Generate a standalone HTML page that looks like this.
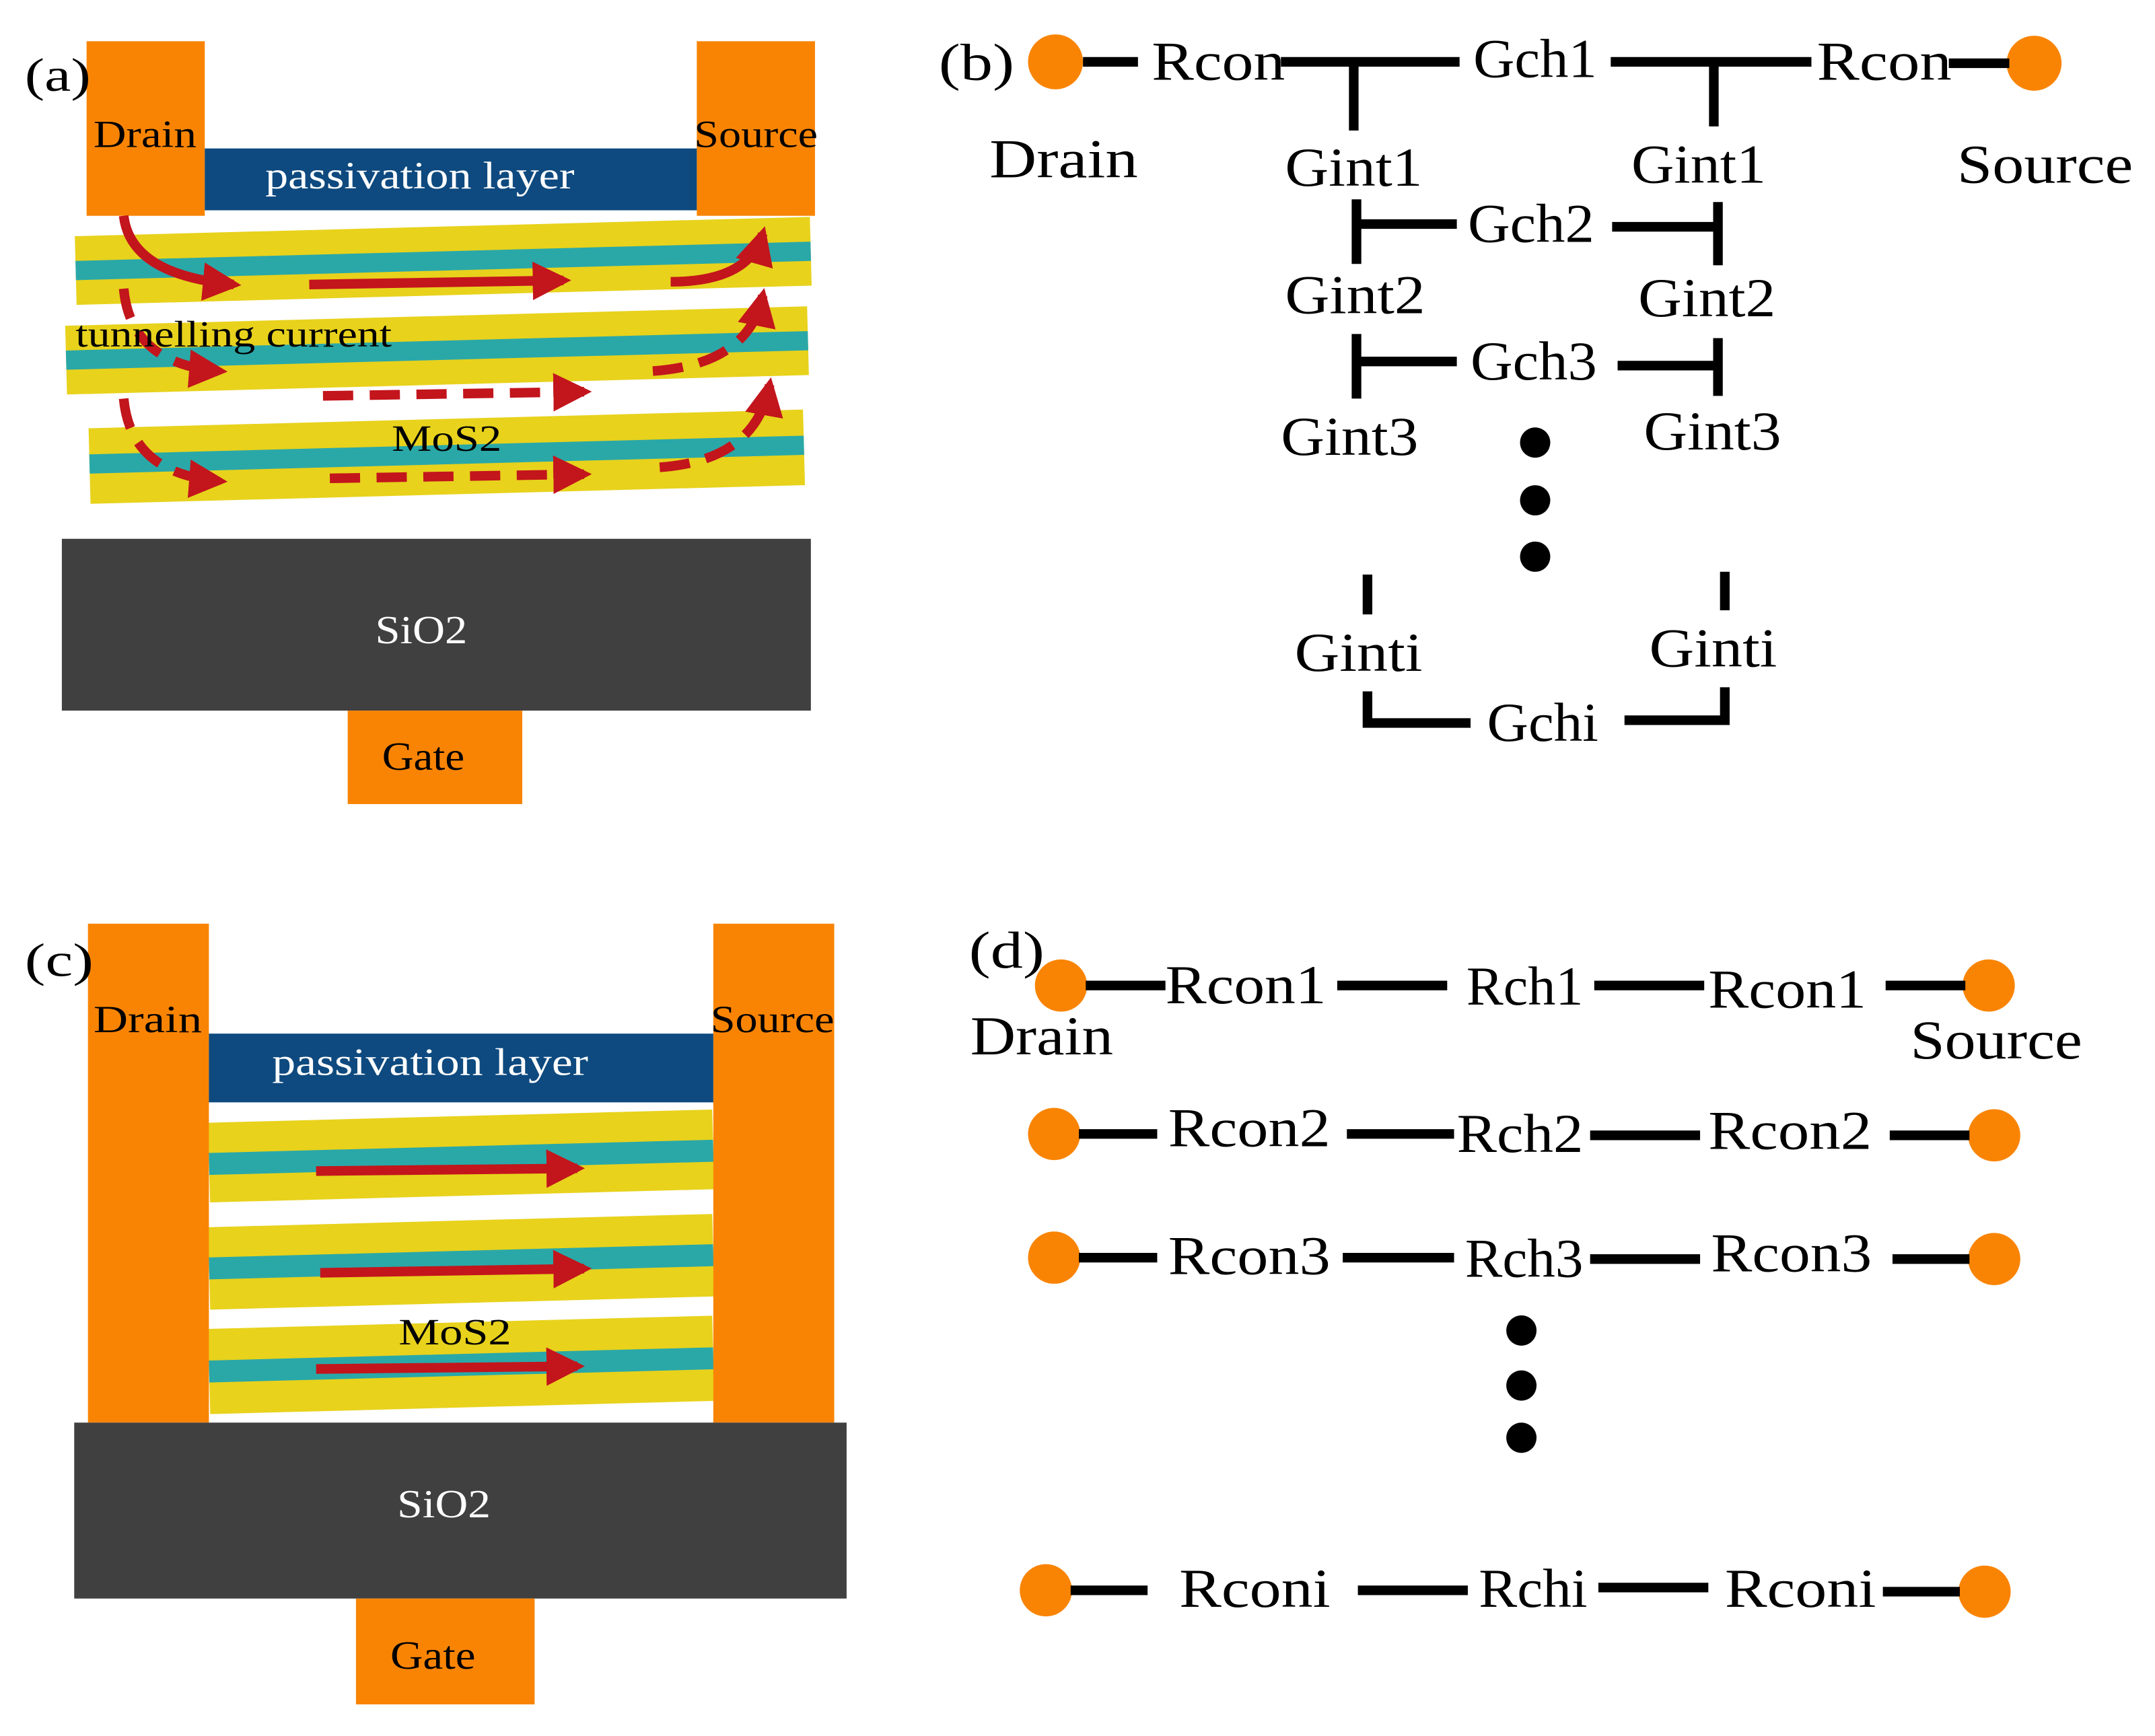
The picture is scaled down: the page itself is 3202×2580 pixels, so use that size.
<!DOCTYPE html>
<html><head><meta charset="utf-8"><style>
html,body{margin:0;padding:0;background:#fff}
svg{display:block}
text{font-family:"Liberation Serif",serif}
</style></head><body>
<svg width="3202" height="2580" viewBox="0 0 1568 1263" preserveAspectRatio="none" xmlns="http://www.w3.org/2000/svg">
<defs>
<marker id="ah" viewBox="0 0 10 10" refX="8" refY="5" markerWidth="4" markerHeight="4" orient="auto"><path d="M0,0 L10,5 L0,10z" fill="#c3151c"/></marker>
</defs>
<rect width="1568" height="1263" fill="#fff"/>
<!-- Panel a -->
<g lengthAdjust="spacingAndGlyphs">
<g transform="rotate(-1.5 316 190)"><rect x="55" y="165" width="535" height="50" fill="#e8d21c"/><rect x="55" y="183" width="535" height="14" fill="#2aa8a8"/></g>
<g transform="rotate(-1.5 316 255)"><rect x="48" y="230" width="540" height="50" fill="#e8d21c"/><rect x="48" y="248" width="540" height="14" fill="#2aa8a8"/></g>
<g transform="rotate(-1.5 316 330)"><rect x="65" y="305" width="520" height="55" fill="#e8d21c"/><rect x="65" y="324" width="520" height="14" fill="#2aa8a8"/></g>
<rect x="63" y="30" width="86" height="127" fill="#f98404"/>
<rect x="507" y="30" width="86" height="127" fill="#f98404"/>
<rect x="149" y="108" width="358" height="45" fill="#0e4a7f"/>
<text x="193" y="137" font-size="28" fill="#fff" textLength="225" lengthAdjust="spacingAndGlyphs">passivation layer</text>
<text x="68" y="107" font-size="28" textLength="75" lengthAdjust="spacingAndGlyphs">Drain</text>
<text x="505" y="107" font-size="28" textLength="90" lengthAdjust="spacingAndGlyphs">Source</text>
<text x="18" y="66" font-size="34" textLength="48" lengthAdjust="spacingAndGlyphs">(a)</text>
<g stroke="#c3151c" stroke-width="7" fill="none" marker-end="url(#ah)">
<path d="M90,157 Q95,200 170,207"/>
<line x1="225" y1="207" x2="410" y2="204"/>
<path d="M488,205 Q545,205 555,170"/>
<g stroke-dasharray="22,12">
<path d="M90,210 Q95,265 160,270"/>
<line x1="235" y1="288" x2="425" y2="285"/>
<path d="M475,270 Q545,265 555,215"/>
<path d="M90,290 Q95,345 160,350"/>
<line x1="240" y1="348" x2="425" y2="345"/>
<path d="M480,340 Q550,335 560,280"/>
</g></g>
<text x="55" y="252" font-size="27" textLength="230" lengthAdjust="spacingAndGlyphs">tunnelling current</text>
<text x="285" y="328" font-size="27" textLength="80" lengthAdjust="spacingAndGlyphs">MoS2</text>
<rect x="45" y="392" width="545" height="125" fill="#404040"/>
<text x="273" y="468" font-size="29" fill="#fff" textLength="67" lengthAdjust="spacingAndGlyphs">SiO2</text>
<rect x="253" y="517" width="127" height="68" fill="#f98404"/>
<text x="278" y="560" font-size="29" textLength="60" lengthAdjust="spacingAndGlyphs">Gate</text>
</g>
<!-- Panel c -->
<g>
<g transform="rotate(-1.5 336 840)"><rect x="152" y="812" width="367" height="58" fill="#e8d21c"/><rect x="152" y="834" width="367" height="16" fill="#2aa8a8"/></g>
<g transform="rotate(-1.5 336 915)"><rect x="152" y="888" width="367" height="60" fill="#e8d21c"/><rect x="152" y="910" width="367" height="16" fill="#2aa8a8"/></g>
<g transform="rotate(-1.5 336 990)"><rect x="152" y="962" width="367" height="62" fill="#e8d21c"/><rect x="152" y="985" width="367" height="16" fill="#2aa8a8"/></g>
<rect x="64" y="672" width="88" height="363" fill="#f98404"/>
<rect x="519" y="672" width="88" height="363" fill="#f98404"/>
<rect x="152" y="752" width="367" height="50" fill="#0e4a7f"/>
<text x="198" y="782" font-size="28" fill="#fff" textLength="230" lengthAdjust="spacingAndGlyphs">passivation layer</text>
<text x="68" y="751" font-size="28" textLength="79" lengthAdjust="spacingAndGlyphs">Drain</text>
<text x="517" y="751" font-size="28" textLength="90" lengthAdjust="spacingAndGlyphs">Source</text>
<text x="18" y="710" font-size="34" textLength="50" lengthAdjust="spacingAndGlyphs">(c)</text>
<g stroke="#c3151c" stroke-width="7" marker-end="url(#ah)">
<line x1="230" y1="852" x2="420" y2="850"/>
<line x1="233" y1="926" x2="425" y2="923"/>
<line x1="230" y1="996" x2="420" y2="994"/>
</g>
<text x="290" y="978" font-size="27" textLength="82" lengthAdjust="spacingAndGlyphs">MoS2</text>
<rect x="54" y="1035" width="562" height="128" fill="#404040"/>
<text x="289" y="1104" font-size="29" fill="#fff" textLength="68" lengthAdjust="spacingAndGlyphs">SiO2</text>
<rect x="259" y="1163" width="130" height="77" fill="#f98404"/>
<text x="284" y="1214" font-size="29" textLength="62" lengthAdjust="spacingAndGlyphs">Gate</text>
</g>
<!-- Panel b -->
<g font-size="40">
<text x="683" y="58" font-size="38" textLength="55" lengthAdjust="spacingAndGlyphs">(b)</text>
<circle cx="768" cy="45" r="20" fill="#f98404"/>
<circle cx="1480" cy="46" r="20" fill="#f98404"/>
<g stroke="#000" stroke-width="7" fill="none">
<line x1="788" y1="45" x2="828" y2="45"/>
<line x1="932" y1="45" x2="1062" y2="45"/>
<line x1="1172" y1="45" x2="1318" y2="45"/>
<line x1="1418" y1="46" x2="1462" y2="46"/>
<line x1="985" y1="45" x2="985" y2="95"/>
<line x1="1247" y1="45" x2="1247" y2="92"/>
<line x1="987" y1="145" x2="987" y2="192"/>
<line x1="987" y1="163" x2="1060" y2="163"/>
<line x1="1173" y1="165" x2="1250" y2="165"/>
<line x1="1250" y1="147" x2="1250" y2="193"/>
<line x1="987" y1="243" x2="987" y2="290"/>
<line x1="987" y1="263" x2="1060" y2="263"/>
<line x1="1177" y1="266" x2="1250" y2="266"/>
<line x1="1250" y1="246" x2="1250" y2="288"/>
<line x1="995" y1="418" x2="995" y2="447"/>
<line x1="1255" y1="416" x2="1255" y2="444"/>
<path d="M995,503 L995,526 L1070,526"/>
<path d="M1182,524 L1255,524 L1255,500"/>
</g>
<g lengthAdjust="spacingAndGlyphs">
<text x="838" y="58" textLength="97" lengthAdjust="spacingAndGlyphs">Rcon</text>
<text x="1072" y="56" textLength="90" lengthAdjust="spacingAndGlyphs">Gch1</text>
<text x="1322" y="58" textLength="98" lengthAdjust="spacingAndGlyphs">Rcon</text>
<text x="720" y="129" textLength="108" lengthAdjust="spacingAndGlyphs">Drain</text>
<text x="1424" y="133" textLength="128" lengthAdjust="spacingAndGlyphs">Source</text>
<text x="935" y="135" textLength="100" lengthAdjust="spacingAndGlyphs">Gint1</text>
<text x="1187" y="133" textLength="98" lengthAdjust="spacingAndGlyphs">Gint1</text>
<text x="1068" y="176" textLength="92" lengthAdjust="spacingAndGlyphs">Gch2</text>
<text x="935" y="228" textLength="102" lengthAdjust="spacingAndGlyphs">Gint2</text>
<text x="1192" y="230" textLength="100" lengthAdjust="spacingAndGlyphs">Gint2</text>
<text x="1070" y="276" textLength="92" lengthAdjust="spacingAndGlyphs">Gch3</text>
<text x="932" y="331" textLength="100" lengthAdjust="spacingAndGlyphs">Gint3</text>
<text x="1196" y="327" textLength="100" lengthAdjust="spacingAndGlyphs">Gint3</text>
<text x="942" y="488" textLength="93" lengthAdjust="spacingAndGlyphs">Ginti</text>
<text x="1200" y="485" textLength="93" lengthAdjust="spacingAndGlyphs">Ginti</text>
<text x="1082" y="539" textLength="81" lengthAdjust="spacingAndGlyphs">Gchi</text>
</g>
<circle cx="1117" cy="322" r="11"/>
<circle cx="1117" cy="364" r="11"/>
<circle cx="1117" cy="405" r="11"/>
</g>
<!-- Panel d -->
<g font-size="40">
<text x="705" y="704" font-size="38" textLength="55" lengthAdjust="spacingAndGlyphs">(d)</text>
<g fill="#f98404">
<circle cx="772" cy="717" r="19"/><circle cx="1447" cy="717" r="19"/>
<circle cx="767" cy="825" r="19"/><circle cx="1451" cy="826" r="19"/>
<circle cx="767" cy="915" r="19"/><circle cx="1451" cy="916" r="19"/>
<circle cx="761" cy="1157" r="19"/><circle cx="1444" cy="1158" r="19"/>
</g>
<g stroke="#000" stroke-width="7">
<line x1="790" y1="717" x2="848" y2="717"/><line x1="973" y1="717" x2="1053" y2="717"/><line x1="1160" y1="717" x2="1240" y2="717"/><line x1="1372" y1="717" x2="1430" y2="717"/>
<line x1="785" y1="825" x2="842" y2="825"/><line x1="980" y1="825" x2="1058" y2="825"/><line x1="1157" y1="826" x2="1237" y2="826"/><line x1="1375" y1="826" x2="1433" y2="826"/>
<line x1="785" y1="915" x2="842" y2="915"/><line x1="977" y1="915" x2="1058" y2="915"/><line x1="1157" y1="916" x2="1237" y2="916"/><line x1="1377" y1="916" x2="1433" y2="916"/>
<line x1="779" y1="1157" x2="835" y2="1157"/><line x1="988" y1="1157" x2="1068" y2="1157"/><line x1="1163" y1="1155" x2="1243" y2="1155"/><line x1="1370" y1="1158" x2="1426" y2="1158"/>
</g>
<text x="848" y="730" textLength="117" lengthAdjust="spacingAndGlyphs">Rcon1</text><text x="1067" y="731" textLength="85" lengthAdjust="spacingAndGlyphs">Rch1</text><text x="1243" y="733" textLength="115" lengthAdjust="spacingAndGlyphs">Rcon1</text>
<text x="706" y="767" textLength="104" lengthAdjust="spacingAndGlyphs">Drain</text><text x="1390" y="770" textLength="125" lengthAdjust="spacingAndGlyphs">Source</text>
<text x="850" y="834" textLength="118" lengthAdjust="spacingAndGlyphs">Rcon2</text><text x="1060" y="838" textLength="92" lengthAdjust="spacingAndGlyphs">Rch2</text><text x="1243" y="836" textLength="119" lengthAdjust="spacingAndGlyphs">Rcon2</text>
<text x="850" y="927" textLength="118" lengthAdjust="spacingAndGlyphs">Rcon3</text><text x="1066" y="929" textLength="86" lengthAdjust="spacingAndGlyphs">Rch3</text><text x="1245" y="925" textLength="117" lengthAdjust="spacingAndGlyphs">Rcon3</text>
<circle cx="1107" cy="968" r="11"/><circle cx="1107" cy="1008" r="11"/><circle cx="1107" cy="1046" r="11"/>
<text x="858" y="1169" textLength="110" lengthAdjust="spacingAndGlyphs">Rconi</text><text x="1076" y="1169" textLength="79" lengthAdjust="spacingAndGlyphs">Rchi</text><text x="1255" y="1169" textLength="110" lengthAdjust="spacingAndGlyphs">Rconi</text>
</g>
</svg>
</body></html>
